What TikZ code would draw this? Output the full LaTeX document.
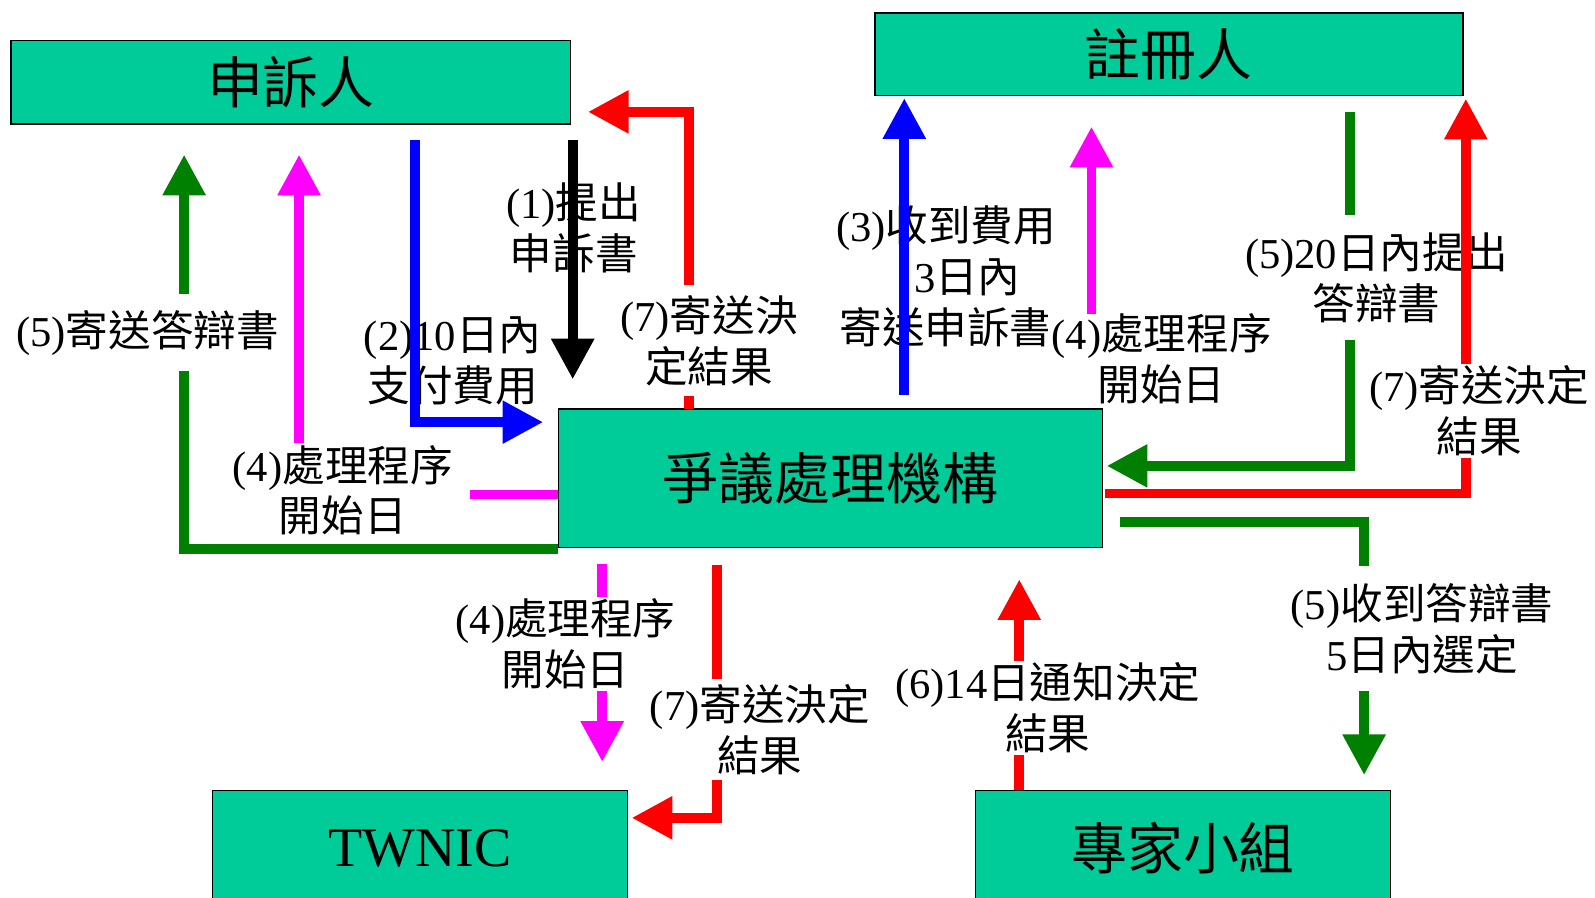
\documentclass[tikz,border=0pt]{standalone}
\usepackage{fontspec}
\setmainfont{Noto Sans CJK TC}
\newfontfamily\tnr{Liberation Serif}
\newcommand\lat[1]{{\tnr #1}}
\usepackage{tikz}
\usetikzlibrary{arrows.meta}
\definecolor{boxgreen}{RGB}{0,204,153}
\definecolor{darkgreen}{RGB}{0,128,0}
\definecolor{pink}{RGB}{255,0,255}
\tikzstyle{org box}     = [draw=black, line width=0.85pt, fill=boxgreen, inner sep=0, font=\fontsize{31.9}{36}\selectfont]
\tikzstyle{flow label}  = [align=center, inner xsep=2pt, inner ysep=1pt, font=\fontsize{24.3}{29}\selectfont]
\tikzstyle{cover label} = [flow label, fill=white]
\tikzstyle{flow}        = [line width=0.194cm, -{Triangle[width=0.816cm, length=0.816cm]}]

\begin{document}
\begin{tikzpicture}[x=0.0204cm, y=-0.0204cm]

    \useasboundingbox (0,0) rectangle (1568,882);

    % the five parties
    \node(complainant)[org box, minimum width=11.22cm, minimum height=1.673cm] at (286,81) {申訴人};
    \node(registrant)[org box, minimum width=11.791cm, minimum height=1.652cm] at (1149,53.5) {註冊人};
    \node(centre)[org box, minimum width=10.914cm, minimum height=2.774cm] at (816.5,470) {爭議處理機構};
    \node(twnic)[org box, minimum width=8.323cm, minimum height=2.326cm] at (413,834) {\lat{TWNIC}};
    \node(panel)[org box, minimum width=8.323cm, minimum height=2.326cm] at (1163,834) {專家小組};

    % labels that the arrows run over
    \node(t1)[flow label] at (564,224) {\lat{(1)}提出\\申訴書};
    \node(t2)[flow label] at (445,355) {\lat{(2)10}日內\\支付費用};
    \node(t3)[flow label] at (930,272) {\lat{(3)}收到費用\\\hspace*{1em}\lat{3}日內\\寄送申訴書};

    % (1) complaint to the centre
    \coordinate(a1) at (563,138);
    \coordinate(b1) at (563,373);
    \draw[flow, black] (a1) -- (b1);

    % (2) fee within 10 days
    \coordinate(a2) at (408,138);
    \coordinate(b2) at (534,415);
    \draw[flow, blue] (a2) |- (b2);

    % (3) complaint sent on to the registrant
    \coordinate(a3) at (889,388);
    \coordinate(b3) at (889,96.5);
    \draw[flow, blue] (a3) -- (b3);

    % (4) start date to the registrant
    \coordinate(a4) at (1073,388);
    \coordinate(b4) at (1073,124.5);
    \draw[flow, pink] (a4) -- (b4);

    % (4) start date to the complainant
    \coordinate(a4b) at (549,486);
    \coordinate(b4b) at (294,152);
    \draw[flow, pink] (a4b) -| (b4b);
    \node(t4b)[cover label, inner xsep=10pt] at (337,482) {\lat{(4)}處理程序\\開始日};

    % (4) start date to TWNIC
    \coordinate(a4c) at (592,554);
    \coordinate(b4c) at (592,749);
    \draw[flow, pink] (a4c) -- (b4c);
    \node(t4c)[cover label] at (556,633) {\lat{(4)}處理程序\\開始日};

    % (5) reply sent to the complainant
    \coordinate(a5) at (549,540);
    \coordinate(b5) at (181,152);
    \draw[flow, darkgreen] (a5) -| (b5);
    \node(t5)[cover label, inner ysep=9pt] at (145,327) {\lat{(5)}寄送答辯書};

    % (5) reply within 20 days
    \coordinate(a5b) at (1327,110);
    \coordinate(b5b) at (1088,458);
    \draw[flow, darkgreen] (a5b) |- (b5b);
    \node(t5b)[cover label, inner ysep=10pt] at (1353,273) {\lat{(5)20}日內提出\\答辯書};

    % label of the arrow to the registrant, over the one above
    \node(t4)[cover label, inner ysep=0pt] at (1142,353) {\lat{(4)}處理程序\\開始日};

    % (5) panel chosen within 5 days
    \coordinate(a5c) at (1101,513);
    \coordinate(b5c) at (1341,762);
    \draw[flow, darkgreen] (a5c) -| (b5c);
    \node(t5c)[cover label, inner ysep=10pt] at (1398,618) {\lat{(5)}收到答辯書\\\lat{5}日內選定};

    % (6) decision within 14 days
    \coordinate(a6) at (1002,777);
    \coordinate(b6) at (1002,569.5);
    \draw[flow, red] (a6) -- (b6);
    \node(t6)[cover label] at (1030,696) {\lat{(6)14}日通知決定\\結果};

    % (7) decision to the complainant
    \coordinate(a7) at (677,402);
    \coordinate(b7) at (578,110);
    \draw[flow, red] (a7) |- (b7);
    \node(t7)[cover label, inner ysep=6pt] at (697,335) {\lat{(7)}寄送決\\定結果};

    % (7) decision to the registrant
    \coordinate(a7b) at (1086,485);
    \coordinate(b7b) at (1441,97);
    \draw[flow, red] (a7b) -| (b7b);
    \node(t7b)[cover label] at (1454,404) {\lat{(7)}寄送決定\\結果};

    % (7) decision to TWNIC
    \coordinate(a7c) at (705,555);
    \coordinate(b7c) at (621,804);
    \draw[flow, red] (a7c) |- (b7c);
    \node(t7c)[cover label, inner ysep=3pt] at (747,717) {\lat{(7)}寄送決定\\結果};

\end{tikzpicture}
\end{document}
